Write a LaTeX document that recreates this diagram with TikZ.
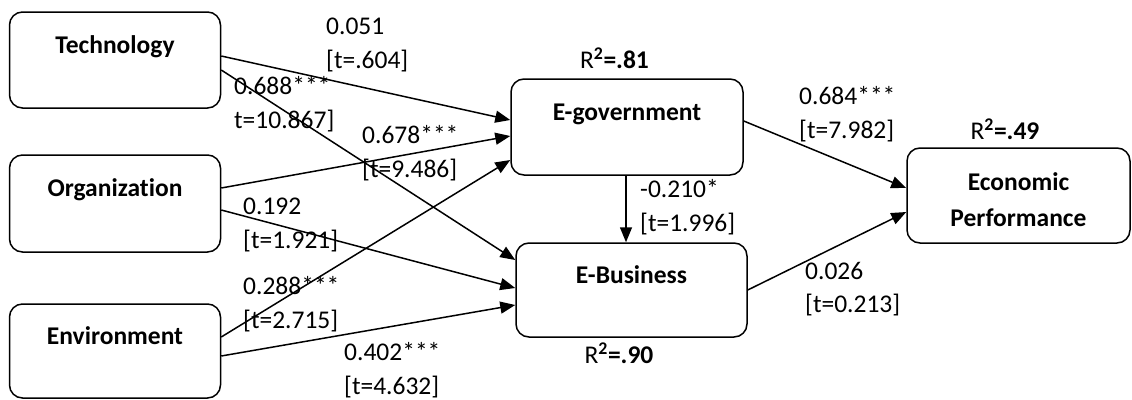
\documentclass[tikz,border=0pt]{standalone}
\usepackage{fontspec}
\setmainfont[Ligatures=NoCommon]{Carlito}
\usepackage{tikz}
\usetikzlibrary{arrows.meta}
\definecolor{ink}{HTML}{000000}
\newcommand{\labsize}{\fontsize{25.5}{33.5}\selectfont}
\tikzset{
  boxbase/.style={draw=ink, line width=1.5pt, rounded corners=13pt, minimum width=211pt, minimum height=96pt, font=\labsize\bfseries},
  box/.style={boxbase, text height=18pt, text depth=32pt},
  link/.style={draw=ink, line width=1.5pt, -{Triangle[length=15pt,width=12pt]}},
  coef/.style={anchor=west, inner sep=0pt, align=left},
  rsq/.style={inner sep=0pt},
  every node/.style={text=ink, font=\labsize}
}

\begin{document}
\begin{tikzpicture}[x=1pt, y=-1pt]
  \useasboundingbox (0,0) rectangle (1132,399);

  \node[box] (tech) at (115,60) {Technology};
  \node[box, minimum height=97pt] (org) at (115,203.5) {Organization};
  \node[box, minimum height=94pt] (env) at (115,351) {Environment};
  \node[box, minimum width=232pt] (egov) at (627,127) {E-government};
  \node[box, minimum width=231pt, minimum height=94pt] (ebus) at (631.5,290) {E-Business};
  \node[boxbase, minimum width=223pt, minimum height=95pt, align=center] (econ) at (1018.5,195.5) {\rule{0pt}{26pt}Economic\\[3.2pt]Performance};

  % paths into the two mediators
  \draw[link] ([yshift=4pt]tech.east) -- ([yshift=7pt]egov.west);
  \draw[link] ([yshift=-10pt]tech.east) -- ([yshift=30pt]ebus.west);
  \draw[link] ([yshift=15.5pt]org.east) -- ([yshift=-9pt]egov.west);
  \draw[link] ([yshift=-6.5pt]org.east) -- ([yshift=2pt]ebus.west);
  \draw[link] ([yshift=14pt]env.east) -- ([yshift=-33pt]egov.west);
  \draw[link] ([yshift=-5pt]env.east) -- ([yshift=-15pt]ebus.west);
  \draw[link] ([xshift=-1pt]egov.south) -- ([xshift=-1pt]egov.south |- ebus.north);
  \draw[link] ([yshift=6pt]egov.east) -- ([yshift=7.5pt]econ.west);
  \draw[link] (ebus.east) -- ([yshift=-16.5pt]econ.west);

  \node[coef] (c1) at (326,45) {0.051\\{[t=.604]}};
  \node[coef] (c2) at (234,104) {0.688***\\t=10.867]};
  \node[coef] (c3) at (362,153) {0.678***\\{[t=9.486]}};
  \node[coef] (c4) at (243,225) {0.192\\{[t=1.921]}};
  \node[coef] (c5) at (243,304) {0.288***\\{[t=2.715]}};
  \node[coef] (c6) at (344,370) {0.402***\\{[t=4.632]}};
  \node[coef] (c7) at (640,207) {-0.210*\\{[t=1.996]}};
  \node[coef] (c8) at (799,114) {0.684***\\{[t=7.982]}};
  \node[coef] (c9) at (805,289) {0.026\\{[t=0.213]}};

  \node[rsq] (r1) at (614.5,58) {R\textbf{\textsuperscript{2}=.81}};
  \node[rsq] (r2) at (619,353) {R\textbf{\textsuperscript{2}=.90}};
  \node[rsq] (r3) at (1005,129) {R\textbf{\textsuperscript{2}=.49}};
\end{tikzpicture}
\end{document}
